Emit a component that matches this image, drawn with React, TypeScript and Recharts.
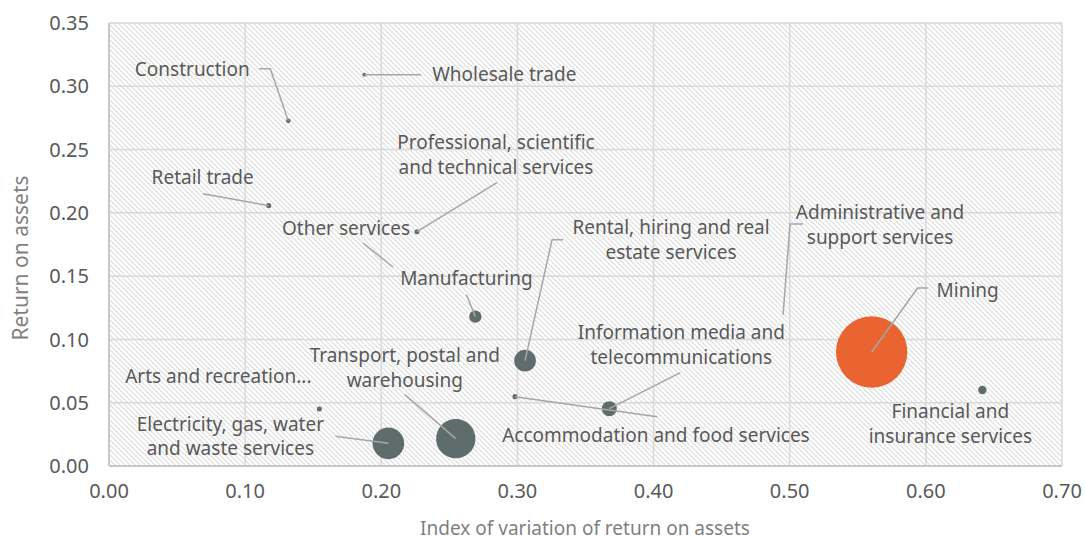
import React from 'react';
import { ScatterChart, Scatter, XAxis, YAxis, ZAxis, CartesianGrid, Label } from 'recharts';

// ---------- data ----------
const sectors = [
  'Construction',
  'Wholesale trade',
  'Retail trade',
  'Professional, scientific and technical services',
  'Other services',
  'Manufacturing',
  'Rental, hiring and real estate services',
  'Information media and telecommunications',
  'Accommodation and food services',
  'Transport, postal and warehousing',
  'Electricity, gas, water and waste services',
  'Arts and recreation services',
  'Mining',
  'Financial and insurance services',
  'Administrative and support services',
];
const variationIndex = [0.1317, 0.1875, 0.1173, 0.2262, 0.2086, 0.2691, 0.3056, 0.3675, 0.2982, 0.2547, 0.2052, 0.1545, 0.5602, 0.6415, 0.4951];
const returnOnAssets = [0.2728, 0.3092, 0.2057, 0.1851, 0.1572, 0.118, 0.0832, 0.0453, 0.0548, 0.0216, 0.0179, 0.045, 0.0901, 0.06, 0.1193];
const bubbleSize = [0.42, 0.3, 0.5, 0.5, 0, 3.0, 9.2, 4.4, 0.5, 30.4, 19.6, 0.5, 100, 1.4, 0];
const labelLines: string[][] = [
  ['Construction'],
  ['Wholesale trade'],
  ['Retail trade'],
  ['Professional, scientific', 'and technical services'],
  ['Other services'],
  ['Manufacturing'],
  ['Rental, hiring and real', 'estate services'],
  ['Information media and', 'telecommunications'],
  ['Accommodation and food services'],
  ['Transport, postal and', 'warehousing'],
  ['Electricity, gas, water', 'and waste services'],
  ['Arts and recreation...'],
  ['Mining'],
  ['Financial and', 'insurance services'],
  ['Administrative and', 'support services'],
];
const xTicks = [0, 0.1, 0.2, 0.3, 0.4, 0.5, 0.6, 0.7];
const yTicks = [0, 0.05, 0.1, 0.15, 0.2, 0.25, 0.3, 0.35];

// ---------- label layout (pixel offsets from each point) ----------
type Lay = { dx: number; dy: number; leader: number[][] };
const labelLayout: Lay[] = [
  { dx: -96, dy: -51, leader: [[-29, -52], [-18, -52]] },
  { dx: 140, dy: 0, leader: [[57, 0]] },
  { dx: -66, dy: -28, leader: [[-66, -12]] },
  { dx: 79, dy: -77, leader: [[80, -49]] },
  { dx: -47, dy: -39, leader: [[-30, -24]] },
  { dx: -9, dy: -38, leader: [[-9, -22]] },
  { dx: 146, dy: -121, leader: [[38, -121], [27, -121]] },
  { dx: 72, dy: -64, leader: [[71, -36]] },
  { dx: 141, dy: 39, leader: [[142, 20]] },
  { dx: -51, dy: -71, leader: [[-51, -44]] },
  { dx: -158, dy: -7, leader: [[-53, -7]] },
  { dx: -101, dy: -33, leader: [] },
  { dx: 96, dy: -62, leader: [[56, -64], [46, -64]] },
  { dx: -32, dy: 34, leader: [] },
  { dx: 97, dy: -90, leader: [[20, -91], [7, -91]] },
];

const data = sectors.map((name, i) => ({
  name,
  x: variationIndex[i],
  y: returnOnAssets[i],
  z: bubbleSize[i],
  idx: i,
}));

const FONT = '"Noto Sans", sans-serif';
const TEXT = '#595959';
const TITLE = '#7F7F7F';
const DOT = '#5E6D6B';
const ORANGE = '#EA6431';
const LEADER = '#A6A6A6';

const radiusOf = (p: any) =>
  p.width != null && !isNaN(p.width) ? p.width / 2 : Math.sqrt(Math.max(p.size || 0, 0) / Math.PI);

const Bubble = (p: any) => {
  const r = radiusOf(p);
  if (!r || r < 0.5) return <g />;
  const fill = p.payload && p.payload.name === 'Mining' ? ORANGE : DOT;
  return <circle cx={p.cx} cy={p.cy} r={r} fill={fill} />;
};

const LabelShape = (p: any) => {
  const i = p.payload.idx;
  const lay = labelLayout[i];
  const lines = labelLines[i];
  const cx = p.cx;
  const cy = p.cy;
  const lh = 24.5;
  const pts = [...lay.leader, [0, 0]];
  const first = cy + lay.dy - ((lines.length - 1) * lh) / 2;
  return (
    <g>
      {lay.leader.length > 0 && (
        <polyline
          points={pts.map((q) => `${cx + q[0]},${cy + q[1]}`).join(' ')}
          fill="none"
          stroke={LEADER}
          strokeWidth={1.5}
        />
      )}
      <text textAnchor="middle" fontFamily={FONT} fontSize={19} fill={TEXT}>
        {lines.map((t, k) => (
          <tspan key={k} x={cx + lay.dx} y={first + k * lh} dy="0.35em">
            {t}
          </tspan>
        ))}
      </text>
    </g>
  );
};

export default function App() {
  return (
    <div style={{ position: 'absolute', left: 0, top: 0, background: '#fff' }}>
      <ScatterChart
        width={1085}
        height={540}
        margin={{ top: 23, right: 23, left: 0, bottom: 0 }}
      >
        <defs>
          <pattern id="hatch" width="5" height="5" patternUnits="userSpaceOnUse">
            <rect width="5" height="5" fill="#ffffff" />
            <path d="M0,0 L5,5 M-1,4 L1,6 M4,-1 L6,1" stroke="#DDDDDD" strokeWidth={1.2} />
          </pattern>
        </defs>
        <CartesianGrid
          stroke="#D9D9D9"
          strokeWidth={1.5}
          fill="url(#hatch)"
          fillOpacity={1}
        />
        <XAxis
          type="number"
          dataKey="x"
          domain={[0, 0.7]}
          ticks={xTicks}
          tickFormatter={(v: number) => v.toFixed(2)}
          height={74}
          tickLine={false}
          tickSize={0}
          tickMargin={18}
          axisLine={{ stroke: '#C8C8C8', strokeWidth: 2 }}
          tick={{ fill: TEXT, fontSize: 20, fontFamily: FONT }}
          interval={0}
        >
          <Label
            content={() => (
              <text x={585} y={528} dy="0.35em" textAnchor="middle" fontFamily={FONT} fontSize={19} fill={TITLE}>
                Index of variation of return on assets
              </text>
            )}
          />
        </XAxis>
        <YAxis
          type="number"
          dataKey="y"
          domain={[0, 0.35]}
          ticks={yTicks}
          tickFormatter={(v: number) => v.toFixed(2)}
          width={109}
          tickLine={false}
          tickSize={0}
          tickMargin={20}
          axisLine={{ stroke: '#C8C8C8', strokeWidth: 2 }}
          tick={{ fill: TEXT, fontSize: 20, fontFamily: FONT }}
          interval={0}
        >
          <Label
            content={() => (
              <text
                x={21}
                y={258}
                dy="0.35em"
                textAnchor="middle"
                transform="rotate(-90 21 258)"
                fontFamily={FONT}
                fontSize={21}
                fill={TITLE}
              >
                Return on assets
              </text>
            )}
          />
        </YAxis>
        <ZAxis type="number" dataKey="z" domain={[0, 100]} range={[0, 4004]} />
        <Scatter data={data} shape={Bubble} isAnimationActive={false} />
        <Scatter data={data} shape={LabelShape} isAnimationActive={false} />
      </ScatterChart>
    </div>
  );
}
